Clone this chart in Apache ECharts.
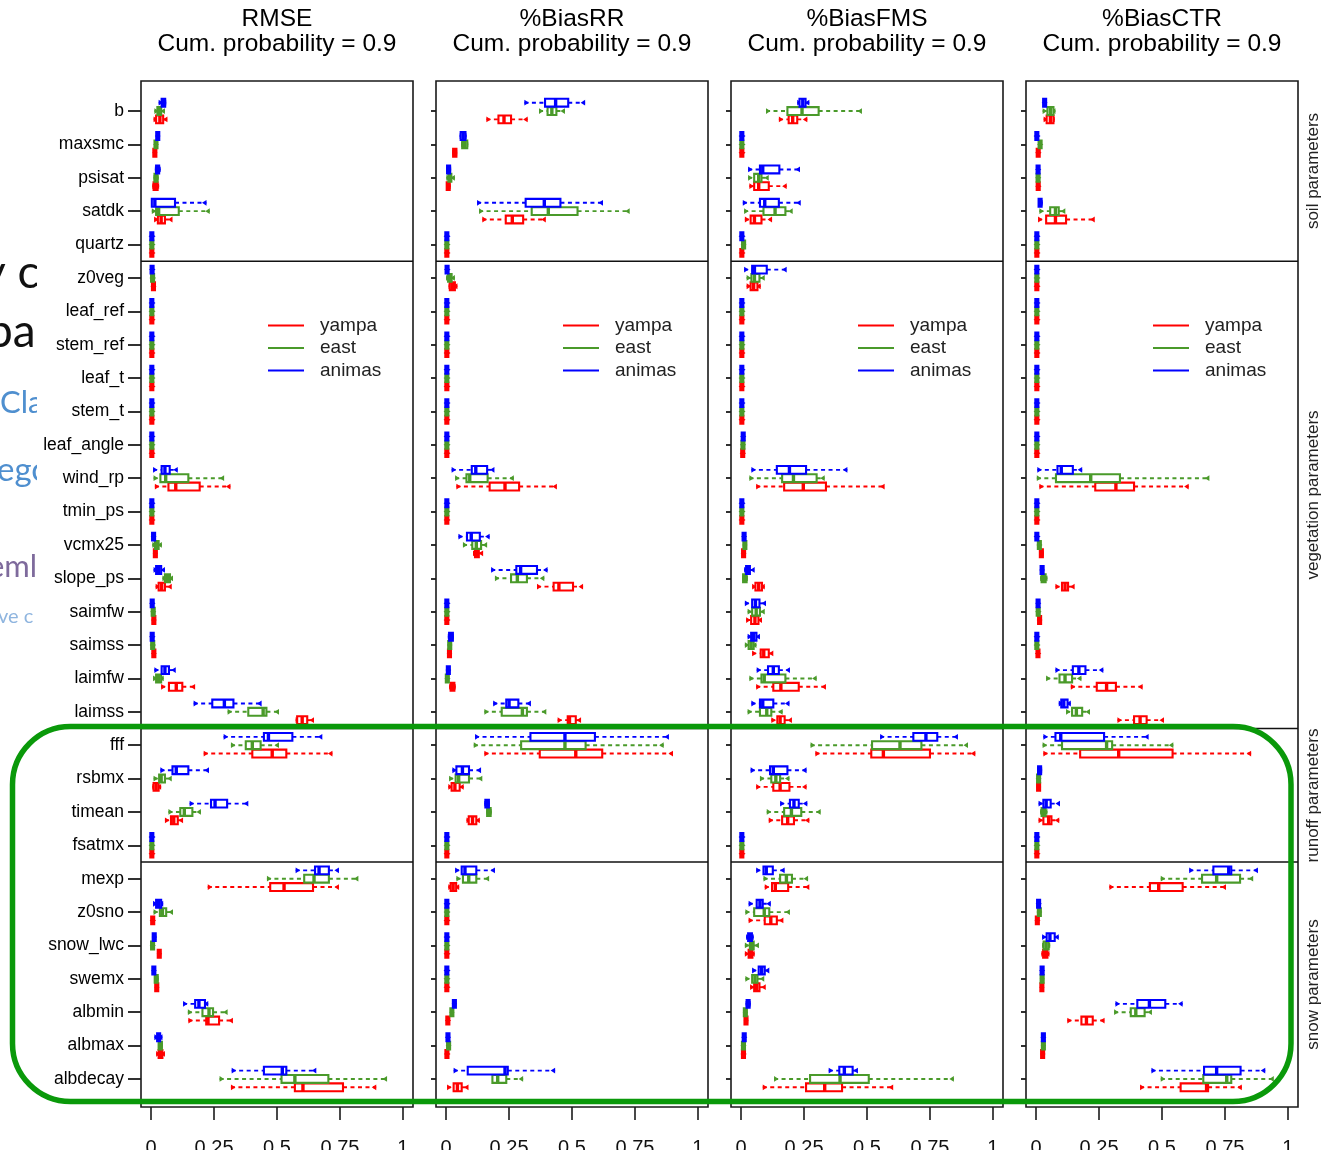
<!DOCTYPE html>
<html><head><meta charset="utf-8">
<script src="https://cdn.jsdelivr.net/npm/echarts@6/dist/echarts.min.js"></script>
<style>html,body{margin:0;padding:0;background:#fff}#c{width:1326px;height:1150px}</style>
</head><body><div id="c"></div>
<script>
const paramNames = ['b','maxsmc','psisat','satdk','quartz','z0veg','leaf_ref','stem_ref','leaf_t','stem_t','leaf_angle','wind_rp','tmin_ps','vcmx25','slope_ps','saimfw','saimss','laimfw','laimss','fff','rsbmx','timean','fsatmx','mexp','z0sno','snow_lwc','swemx','albmin','albmax','albdecay'];
const panelTitles = ['RMSE','%BiasRR','%BiasFMS','%BiasCTR'];
const probLabel = 'Cum. probability = 0.9';
const basins = ['yampa','east','animas'];
const xTicks = [0,0.25,0.5,0.75,1];
const groupBreaks = [4.5,18.5,22.5];
const groupLabels = ['soil parameters','vegetation parameters','runoff parameters','snow parameters'];
const slideFragments = ['y c','pa','Cla','ego','eml','ve c'];

// each entry: [lower whisker, q1, median, q3, upper whisker], rows in paramNames order
const rmseYampa = [
[0.010,0.020,0.035,0.048,0.065],[0.008,0.010,0.014,0.020,0.022],[0.005,0.010,0.018,0.026,0.032],[0.012,0.027,0.040,0.055,0.085],[0,0,0.003,0.006,0.008],
[0.004,0.006,0.009,0.013,0.015],[0,0,0.003,0.006,0.008],[0,0,0.003,0.006,0.008],[0,0,0.003,0.006,0.008],[0,0,0.003,0.006,0.008],[0,0,0.003,0.006,0.008],
[0.015,0.069,0.098,0.193,0.315],[0,0,0.003,0.006,0.008],[0.010,0.012,0.016,0.022,0.024],[0.018,0.030,0.042,0.055,0.082],[0.005,0.007,0.010,0.015,0.017],
[0.005,0.007,0.010,0.015,0.017],[0.040,0.071,0.100,0.124,0.175],[0.574,0.580,0.600,0.620,0.647],
[0.209,0.402,0.481,0.537,0.720],[0.005,0.010,0.020,0.030,0.040],[0.055,0.079,0.090,0.106,0.127],[0,0,0.003,0.006,0.008],
[0.225,0.473,0.528,0.643,0.746],[0.002,0.003,0.006,0.010,0.012],[0.026,0.028,0.032,0.037,0.040],[0.016,0.018,0.022,0.027,0.030],
[0.148,0.219,0.226,0.270,0.325],[0.020,0.030,0.038,0.045,0.055],[0.317,0.571,0.603,0.762,0.894]];
const rmseEast = [
[0.013,0.025,0.032,0.040,0.055],[0.013,0.015,0.019,0.024,0.026],[0.010,0.014,0.019,0.025,0.030],[0.003,0.020,0.030,0.110,0.233],[0,0,0.003,0.006,0.008],
[0.002,0.003,0.005,0.009,0.011],[0,0,0.003,0.006,0.008],[0,0,0.003,0.006,0.008],[0,0,0.003,0.006,0.008],[0,0,0.003,0.006,0.008],[0,0,0.003,0.006,0.008],
[0.010,0.037,0.058,0.148,0.290],[0,0,0.003,0.006,0.008],[0.005,0.015,0.022,0.030,0.043],[0.045,0.055,0.065,0.075,0.087],[0.003,0.005,0.007,0.012,0.014],
[0.002,0.003,0.005,0.010,0.012],[0.008,0.020,0.030,0.040,0.050],[0.304,0.386,0.445,0.458,0.508],
[0.317,0.376,0.402,0.435,0.508],[0.010,0.032,0.040,0.055,0.082],[0.069,0.116,0.132,0.164,0.198],[0,0,0.003,0.006,0.008],
[0.460,0.608,0.647,0.706,0.823],[0.010,0.035,0.045,0.060,0.087],[0.001,0.002,0.005,0.010,0.012],[0.012,0.015,0.020,0.026,0.030],
[0.146,0.204,0.230,0.246,0.304],[0.028,0.030,0.036,0.043,0.046],[0.272,0.518,0.571,0.704,0.937]];
const rmseAnimas = [
[0.030,0.042,0.050,0.056,0.060],[0.020,0.022,0.026,0.031,0.033],[0.015,0.020,0.025,0.032,0.038],[0,0.003,0.015,0.095,0.220],[0,0,0.003,0.006,0.008],
[0,0,0.003,0.008,0.010],[0,0,0.003,0.006,0.008],[0,0,0.003,0.006,0.008],[0,0,0.003,0.006,0.008],[0,0,0.003,0.006,0.008],[0,0,0.003,0.006,0.008],
[0.008,0.042,0.055,0.074,0.106],[0,0,0.003,0.006,0.008],[0.004,0.006,0.009,0.014,0.016],[0.010,0.020,0.030,0.040,0.055],[0,0.001,0.003,0.008,0.010],
[0,0.001,0.003,0.008,0.010],[0.013,0.042,0.055,0.071,0.098],[0.169,0.243,0.291,0.327,0.439],
[0.288,0.448,0.466,0.561,0.680],[0.037,0.085,0.100,0.148,0.230],[0.153,0.238,0.254,0.302,0.386],[0,0,0.003,0.006,0.008],
[0.574,0.651,0.667,0.706,0.746],[0.008,0.020,0.030,0.040,0.048],[0.006,0.008,0.012,0.017,0.020],[0.005,0.007,0.010,0.015,0.018],
[0.127,0.175,0.190,0.214,0.227],[0.013,0.025,0.030,0.035,0.045],[0.320,0.448,0.521,0.537,0.656]];

const rrYampa = [
[0.160,0.208,0.230,0.258,0.324],[0.025,0.028,0.035,0.041,0.044],[0,0.003,0.008,0.014,0.018],[0.144,0.237,0.263,0.306,0.396],[0,0,0.003,0.006,0.008],
[0.010,0.015,0.025,0.035,0.045],[0,0,0.003,0.006,0.008],[0,0,0.003,0.006,0.008],[0,0,0.003,0.006,0.008],[0,0,0.003,0.006,0.008],[0,0,0.003,0.006,0.008],
[0.041,0.173,0.234,0.290,0.440],[0,0,0.003,0.006,0.008],[0.107,0.115,0.122,0.130,0.147],[0.361,0.427,0.448,0.504,0.544],[0,0,0.003,0.006,0.008],
[0.007,0.009,0.013,0.018,0.020],[0.012,0.018,0.025,0.033,0.038],[0.443,0.483,0.490,0.515,0.536],
[0.152,0.372,0.515,0.620,0.901],[0.009,0.022,0.035,0.054,0.070],[0.081,0.090,0.105,0.120,0.134],[0,0,0.003,0.006,0.008],
[0.009,0.018,0.028,0.040,0.052],[0,0,0.003,0.006,0.008],[0,0,0.003,0.006,0.008],[0,0,0.003,0.006,0.008],
[0.002,0.003,0.006,0.011,0.013],[0,0,0.002,0.007,0.009],[0.004,0.030,0.045,0.062,0.089]];
const rrEast = [
[0.369,0.403,0.420,0.438,0.472],[0.060,0.064,0.074,0.084,0.088],[0.001,0.010,0.014,0.020,0.035],[0.131,0.340,0.406,0.522,0.729],[0,0,0.003,0.006,0.008],
[0,0.008,0.015,0.022,0.035],[0,0,0.003,0.006,0.008],[0,0,0.003,0.006,0.008],[0,0,0.003,0.006,0.008],[0,0,0.003,0.006,0.008],[0,0,0.003,0.006,0.008],
[0.036,0.081,0.094,0.165,0.269],[0,0,0.003,0.006,0.008],[0.067,0.104,0.120,0.139,0.163],[0.194,0.258,0.283,0.321,0.390],[0,0,0.003,0.006,0.008],
[0.008,0.010,0.014,0.019,0.021],[0,0.001,0.004,0.009,0.011],[0.152,0.221,0.303,0.321,0.398],
[0.110,0.298,0.472,0.554,0.864],[0.012,0.038,0.050,0.091,0.144],[0.160,0.163,0.170,0.177,0.181],[0,0,0.003,0.006,0.008],
[0.041,0.067,0.090,0.120,0.171],[0,0,0.003,0.006,0.008],[0,0,0.003,0.006,0.008],[0,0,0.003,0.006,0.008],
[0.016,0.018,0.023,0.028,0.030],[0.004,0.006,0.010,0.014,0.016],[0.184,0.184,0.205,0.239,0.306]];
const rrAnimas = [
[0.311,0.393,0.435,0.485,0.552],[0.054,0.058,0.068,0.077,0.081],[0.001,0.004,0.010,0.016,0.020],[0.123,0.316,0.390,0.454,0.623],[0,0,0.003,0.006,0.008],
[0,0,0.003,0.008,0.010],[0,0,0.003,0.006,0.008],[0,0,0.003,0.006,0.008],[0,0,0.003,0.006,0.008],[0,0,0.003,0.006,0.008],[0,0,0.003,0.006,0.008],
[0.022,0.102,0.118,0.163,0.192],[0,0,0.003,0.006,0.008],[0.049,0.083,0.100,0.134,0.173],[0.179,0.279,0.296,0.361,0.403],[0,0,0.003,0.006,0.008],
[0.007,0.012,0.020,0.027,0.030],[0.003,0.005,0.009,0.013,0.015],[0.187,0.239,0.250,0.287,0.337],
[0.115,0.335,0.472,0.591,0.885],[0.025,0.041,0.065,0.091,0.139],[0.152,0.156,0.163,0.170,0.173],[0,0,0.003,0.006,0.008],
[0.036,0.062,0.075,0.120,0.194],[0,0,0.003,0.006,0.008],[0,0,0.003,0.006,0.008],[0,0,0.003,0.006,0.008],
[0.026,0.028,0.033,0.038,0.040],[0.002,0.004,0.007,0.011,0.013],[0.030,0.086,0.234,0.245,0.433]];

const fmsYampa = [
[0.150,0.189,0.205,0.223,0.263],[0,0,0.003,0.006,0.008],[0.033,0.052,0.070,0.110,0.181],[0.015,0.038,0.053,0.081,0.123],[0,0,0.003,0.006,0.008],
[0.022,0.038,0.050,0.065,0.078],[0,0,0.003,0.006,0.008],[0,0,0.003,0.006,0.008],[0,0,0.003,0.006,0.008],[0,0,0.003,0.006,0.008],[0.002,0.003,0.006,0.010,0.012],
[0.060,0.171,0.247,0.337,0.570],[0,0,0.003,0.006,0.008],[0.004,0.006,0.010,0.014,0.016],[0.044,0.057,0.070,0.083,0.094],[0.020,0.040,0.055,0.069,0.083],
[0.044,0.078,0.090,0.110,0.128],[0.060,0.128,0.158,0.229,0.337],[0.120,0.144,0.155,0.173,0.202],
[0.295,0.517,0.565,0.750,0.930],[0.060,0.128,0.155,0.192,0.260],[0.110,0.163,0.185,0.210,0.271],[0,0,0.003,0.006,0.008],
[0.094,0.123,0.136,0.187,0.271],[0.030,0.094,0.118,0.142,0.168],[0.015,0.030,0.037,0.045,0.054],[0.036,0.052,0.062,0.073,0.098],
[0.012,0.014,0.020,0.025,0.028],[0.005,0.006,0.010,0.013,0.015],[0.086,0.258,0.332,0.401,0.604]];
const fmsEast = [
[0.099,0.184,0.242,0.308,0.480],[0,0,0.003,0.006,0.008],[0.028,0.052,0.070,0.081,0.110],[0.012,0.089,0.135,0.176,0.205],[0.004,0.006,0.010,0.014,0.016],
[0.022,0.041,0.053,0.073,0.094],[0,0,0.003,0.006,0.008],[0,0,0.003,0.006,0.008],[0,0,0.003,0.006,0.008],[0,0,0.003,0.006,0.008],[0.002,0.004,0.007,0.011,0.013],
[0.033,0.163,0.208,0.300,0.332],[0,0,0.003,0.006,0.008],[0.008,0.010,0.015,0.020,0.022],[0.005,0.008,0.015,0.022,0.027],[0.026,0.044,0.060,0.075,0.094],
[0.015,0.030,0.040,0.050,0.061],[0.033,0.081,0.092,0.176,0.300],[0.026,0.075,0.102,0.120,0.165],
[0.276,0.520,0.631,0.716,0.901],[0.075,0.120,0.138,0.155,0.192],[0.102,0.171,0.200,0.239,0.316],[0,0,0.003,0.006,0.008],
[0.089,0.155,0.180,0.202,0.266],[0.017,0.052,0.092,0.112,0.194],[0.015,0.035,0.042,0.050,0.071],[0.017,0.044,0.055,0.065,0.092],
[0.010,0.012,0.017,0.022,0.024],[0.004,0.006,0.010,0.013,0.015],[0.131,0.274,0.393,0.507,0.845]];
const fmsAnimas = [
[0.223,0.232,0.245,0.256,0.271],[0,0,0.003,0.006,0.008],[0.028,0.075,0.086,0.152,0.234],[0.007,0.075,0.094,0.150,0.237],[0,0,0.003,0.006,0.008],
[0.012,0.044,0.053,0.102,0.181],[0,0,0.003,0.006,0.008],[0,0,0.003,0.006,0.008],[0,0,0.003,0.006,0.008],[0,0,0.003,0.006,0.008],[0.003,0.005,0.008,0.012,0.014],
[0.041,0.142,0.192,0.258,0.422],[0,0,0.003,0.006,0.008],[0.006,0.008,0.012,0.016,0.018],[0.012,0.020,0.027,0.035,0.054],[0.015,0.044,0.057,0.073,0.099],
[0.026,0.040,0.050,0.061,0.075],[0.062,0.107,0.128,0.150,0.194],[0.041,0.075,0.086,0.128,0.192],
[0.552,0.684,0.734,0.779,0.861],[0.038,0.115,0.128,0.184,0.260],[0.155,0.194,0.210,0.229,0.263],[0,0,0.003,0.006,0.008],
[0.060,0.089,0.100,0.126,0.173],[0.030,0.062,0.075,0.086,0.118],[0.020,0.028,0.035,0.043,0.050],[0.044,0.070,0.082,0.094,0.112],
[0.018,0.022,0.028,0.034,0.038],[0.007,0.009,0.012,0.016,0.018],[0.348,0.390,0.410,0.443,0.464]];

const ctrYampa = [
[0.030,0.042,0.057,0.069,0.074],[0.004,0.005,0.008,0.012,0.014],[0.004,0.005,0.008,0.012,0.014],[0.008,0.040,0.077,0.119,0.233],[0,0,0.003,0.006,0.008],
[0,0,0.003,0.006,0.008],[0,0,0.003,0.006,0.008],[0,0,0.003,0.006,0.008],[0,0,0.003,0.006,0.008],[0,0,0.003,0.006,0.008],[0,0,0.003,0.006,0.008],
[0.013,0.235,0.317,0.389,0.606],[0,0,0.003,0.006,0.008],[0.012,0.015,0.021,0.027,0.030],[0.077,0.103,0.115,0.127,0.153],[0.008,0.010,0.013,0.018,0.020],
[0.003,0.004,0.007,0.011,0.013],[0.138,0.241,0.280,0.317,0.423],[0.323,0.389,0.413,0.439,0.508],
[0.029,0.175,0.328,0.542,0.854],[0.003,0.005,0.010,0.015,0.018],[0.010,0.029,0.050,0.061,0.092],[0,0,0.003,0.006,0.008],
[0.291,0.452,0.487,0.582,0.754],[0,0.001,0.005,0.009,0.011],[0.021,0.028,0.037,0.045,0.053],[0.016,0.018,0.023,0.028,0.030],
[0.124,0.180,0.200,0.225,0.272],[0.020,0.021,0.026,0.031,0.033],[0.413,0.574,0.677,0.683,0.817]];
const ctrEast = [
[0.026,0.045,0.057,0.069,0.077],[0.011,0.012,0.016,0.020,0.022],[0.003,0.004,0.008,0.012,0.014],[0.013,0.056,0.077,0.090,0.116],[0,0,0.003,0.006,0.008],
[0,0,0.003,0.006,0.008],[0,0,0.003,0.006,0.008],[0,0,0.003,0.006,0.008],[0,0,0.003,0.006,0.008],[0,0,0.003,0.006,0.008],[0,0,0.003,0.006,0.008],
[0.003,0.079,0.217,0.333,0.688],[0,0,0.003,0.006,0.008],[0.008,0.009,0.013,0.017,0.019],[0.016,0.022,0.030,0.038,0.045],[0.004,0.005,0.008,0.012,0.014],
[0,0,0.003,0.006,0.008],[0.040,0.093,0.115,0.143,0.180],[0.119,0.143,0.160,0.183,0.214],
[0.026,0.103,0.280,0.302,0.545],[0.004,0.006,0.010,0.014,0.016],[0.016,0.022,0.030,0.038,0.045],[0,0,0.003,0.006,0.008],
[0.495,0.659,0.717,0.810,0.862],[0.007,0.009,0.013,0.017,0.019],[0.024,0.030,0.040,0.050,0.056],[0.016,0.018,0.024,0.030,0.032],
[0.310,0.376,0.396,0.431,0.460],[0.022,0.024,0.029,0.034,0.036],[0.495,0.664,0.757,0.775,0.944]];
const ctrAnimas = [
[0.028,0.030,0.034,0.038,0.040],[0,0,0.003,0.006,0.008],[0.003,0.004,0.008,0.012,0.014],[0.008,0.010,0.015,0.022,0.026],[0,0,0.003,0.006,0.008],
[0,0,0.003,0.006,0.008],[0,0,0.003,0.006,0.008],[0,0,0.003,0.006,0.008],[0,0,0.003,0.006,0.008],[0,0,0.003,0.006,0.008],[0,0,0.003,0.006,0.008],
[0.005,0.085,0.100,0.146,0.183],[0,0,0.003,0.006,0.008],[0,0,0.003,0.006,0.008],[0.018,0.020,0.024,0.028,0.030],[0.003,0.004,0.008,0.012,0.014],
[0,0,0.003,0.006,0.008],[0.077,0.146,0.170,0.196,0.267],[0.090,0.100,0.110,0.125,0.138],
[0.029,0.077,0.098,0.270,0.447],[0.005,0.008,0.013,0.020,0.024],[0.010,0.029,0.040,0.058,0.095],[0,0,0.003,0.006,0.008],
[0.608,0.704,0.765,0.775,0.881],[0.005,0.006,0.010,0.014,0.016],[0.024,0.042,0.055,0.074,0.090],[0.018,0.020,0.024,0.028,0.030],
[0.315,0.402,0.450,0.513,0.582],[0.023,0.025,0.029,0.033,0.035],[0.458,0.667,0.717,0.812,0.910]];

const panelData = [
  [rmseYampa, rmseEast, rmseAnimas],
  [rrYampa, rrEast, rrAnimas],
  [fmsYampa, fmsEast, fmsAnimas],
  [ctrYampa, ctrEast, ctrAnimas]
];

const colors = ['#ff0000', '#4a9a2a', '#0000ff'];
const rowOffsets = [0.25, 0, -0.25];
const panelLeft = [141, 436, 731, 1026];
const PW = 272, PT = 81, PH = 1026;
const FONT = 'Liberation Sans, Arial, Helvetica, sans-serif';

function boxRender(offset, color) {
  return function (params, api) {
    const row = api.value(0) + offset;
    const xs = [1, 2, 3, 4, 5].map(i => api.coord([api.value(i), row])[0]);
    const y = api.coord([0, row])[1];
    const hh = 3.9;
    const dash = { stroke: color, lineWidth: 1.9, lineDash: [4, 3.5] };
    const ch = [];
    let bx = xs[1], bw = xs[3] - xs[1];
    if (bw < 3) { bx = (xs[1] + xs[3]) / 2 - 1.5; bw = 3; }
    if (xs[1] - xs[0] > 0.5) ch.push({ type: 'line', shape: { x1: xs[0], y1: y, x2: bx, y2: y }, style: dash });
    if (xs[4] - xs[3] > 0.5) ch.push({ type: 'line', shape: { x1: bx + bw, y1: y, x2: xs[4], y2: y }, style: dash });
    ch.push({ type: 'polygon', shape: { points: [[xs[0], y - 2.9], [xs[0], y + 2.9], [xs[0] + 4.5, y]] }, style: { fill: color } });
    ch.push({ type: 'polygon', shape: { points: [[xs[4], y - 2.9], [xs[4], y + 2.9], [xs[4] - 4.5, y]] }, style: { fill: color } });
    ch.push({ type: 'rect', shape: { x: bx, y: y - hh, width: bw, height: 2 * hh }, style: { fill: '#fff', stroke: color, lineWidth: 2.1 } });
    ch.push({ type: 'line', shape: { x1: xs[2], y1: y - hh, x2: xs[2], y2: y + hh }, style: { stroke: color, lineWidth: 3.4 } });
    return { type: 'group', children: ch };
  };
}

function breakRender(params, api) {
  const cs = params.coordSys;
  const y = api.coord([0, api.value(1)])[1];
  return { type: 'line', shape: { x1: cs.x, y1: y, x2: cs.x + cs.width, y2: y }, style: { stroke: '#111', lineWidth: 1.6 } };
}

const rowIdx = paramNames.map((_, i) => i);
const grids = [], xAxes = [], yAxes = [], series = [], titles = [], legends = [];
panelLeft.forEach((L, p) => {
  grids.push({ left: L, top: PT, width: PW, height: PH, show: true, borderColor: '#1a1a1a', borderWidth: 1.6,
    backgroundColor: 'transparent', containLabel: false, outerBoundsMode: 'none' });
  xAxes.push({
    type: 'value', gridIndex: p, min: -0.04, max: 1.04, position: 'bottom',
    axisLine: { show: false, onZero: false }, splitLine: { show: false },
    axisTick: { show: true, length: 13, customValues: xTicks, lineStyle: { color: '#1a1a1a', width: 1.6 } },
    axisLabel: { show: true, customValues: xTicks, margin: 31, fontSize: 20, color: '#111', fontFamily: FONT, formatter: v => String(v) }
  });
  yAxes.push({
    type: 'value', gridIndex: p, min: -0.9, max: 29.84, inverse: true,
    axisLine: { show: false, onZero: false }, splitLine: { show: false },
    axisTick: { show: true, length: p === 0 ? 13 : 5, customValues: rowIdx, lineStyle: { color: '#1a1a1a', width: 1.8 } },
    axisLabel: { show: p === 0, customValues: rowIdx, margin: 17, fontSize: 17.5, color: '#000', fontFamily: FONT, formatter: v => paramNames[Math.round(v)] }
  });
  titles.push({
    text: panelTitles[p] + '\n' + probLabel, left: L + PW / 2, top: 7, padding: 0, textAlign: 'center',
    textStyle: { fontSize: 24.5, fontWeight: 'normal', color: '#000', lineHeight: 25, fontFamily: FONT }
  });
  legends.push({
    data: basins, orient: 'vertical', left: L + 127, top: 316, icon: 'rect', itemWidth: 36, itemHeight: 2, itemGap: 3.5,
    selectedMode: false, padding: 0,
    textStyle: { fontSize: 19, color: '#222', fontFamily: FONT, padding: [0, 0, 0, 11] }
  });
  series.push({
    type: 'custom', xAxisIndex: p, yAxisIndex: p, renderItem: breakRender, silent: true,
    data: groupBreaks.map(v => [0, v]), encode: { x: 0, y: 1 }, z: 1
  });
  [0, 1, 2].forEach(b => {
    series.push({
      type: 'custom', name: basins[b], xAxisIndex: p, yAxisIndex: p,
      renderItem: boxRender(rowOffsets[b], colors[b]),
      itemStyle: { color: colors[b] },
      data: panelData[p][b].map((r, i) => [i].concat(r)),
      encode: { x: [1, 2, 3, 4, 5], y: 0 }, z: 3, clip: false
    });
  });
});

const groupCenters = [171, 495, 795.5, 984.5];
const graphics = [];
groupLabels.forEach((t, i) => {
  graphics.push({ type: 'text', x: 1313, y: groupCenters[i], rotation: Math.PI / 2,
    style: { text: t, fontSize: 17, fill: '#222', fontFamily: FONT, align: 'center', verticalAlign: 'middle' } });
});
// background slide fragments (partially hidden behind the figure)
const fragPos = [
  { x: -18, y: 273, fs: 46, c: '#111' },
  { x: -13, y: 332, fs: 46, c: '#111' },
  { x: 0, y: 403, fs: 31, c: '#4f8fcf' },
  { x: -3, y: 470, fs: 33, c: '#4f8fcf' },
  { x: -12, y: 567, fs: 31, c: '#7e6a9c' },
  { x: -2, y: 617, fs: 20, c: '#8fb5df' }
];
slideFragments.forEach((t, i) => {
  const f = fragPos[i];
  graphics.push({ type: 'text', x: f.x, y: f.y, z: -10,
    style: { text: t, fontSize: f.fs, fill: f.c, fontFamily: 'Lato, Open Sans, sans-serif', align: 'left', verticalAlign: 'middle' } });
});
graphics.push({ type: 'rect', z: -5, shape: { x: 37, y: 200, width: 103, height: 480 }, style: { fill: '#fff' } });
// green highlight frame
graphics.push({ type: 'rect', z: 100, shape: { x: 12.5, y: 726.5, width: 1278.5, height: 375, r: 58 },
  style: { fill: 'none', stroke: '#0a990a', lineWidth: 5.5 } });

const chart = echarts.init(document.getElementById('c'), null, { renderer: 'canvas' });
chart.setOption({
  animation: false,
  backgroundColor: '#fff',
  title: titles,
  legend: legends,
  grid: grids,
  xAxis: xAxes,
  yAxis: yAxes,
  series: series,
  graphic: graphics
});
</script></body></html>
